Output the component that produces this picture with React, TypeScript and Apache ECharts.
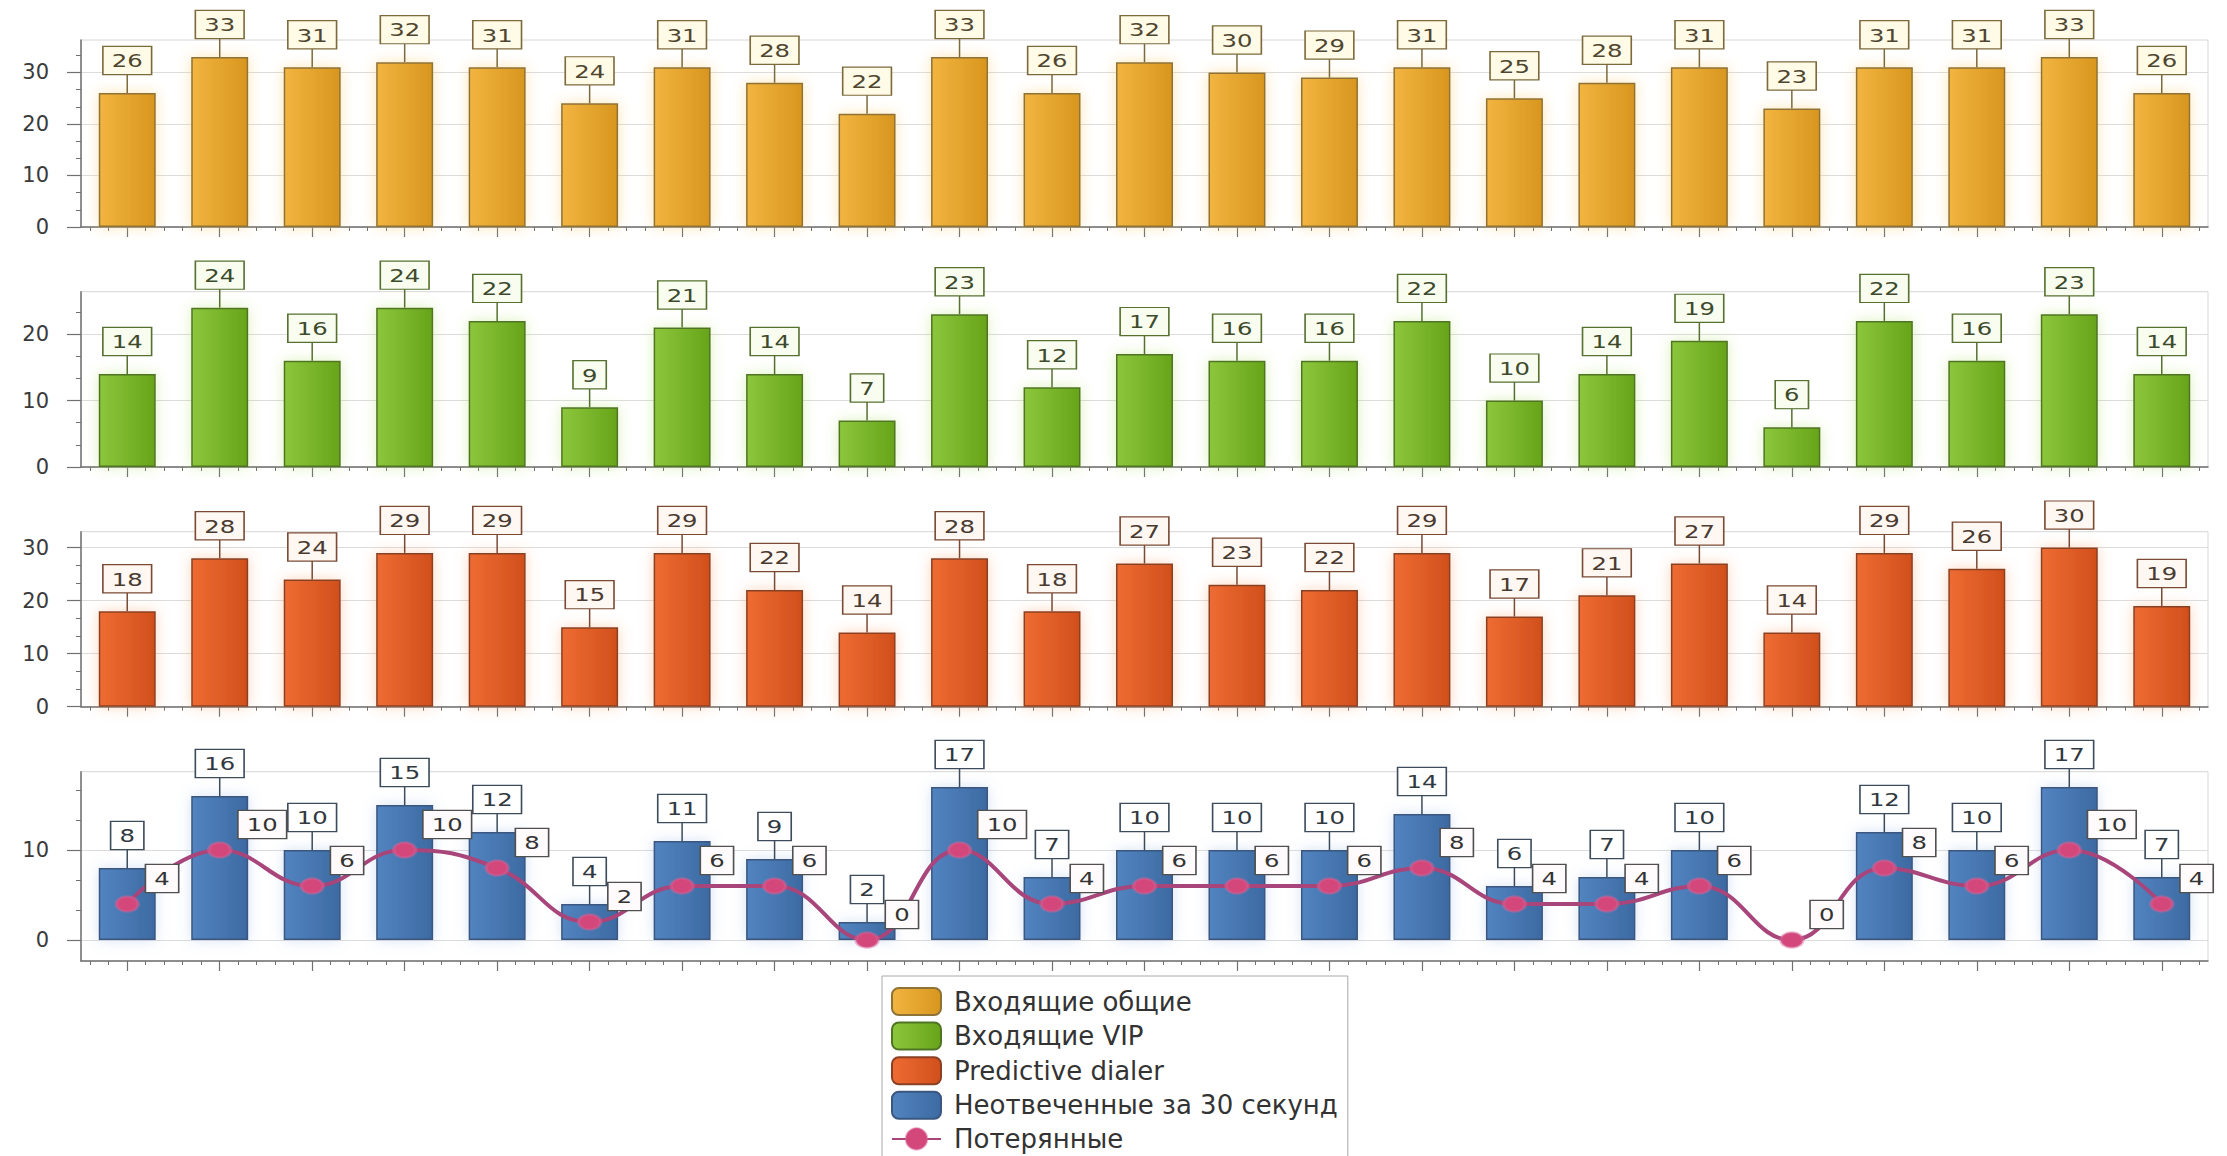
import React, { useEffect, useRef } from 'react';
import * as echarts from 'echarts';

const categories = ['1', '2', '3', '4', '5', '6', '7', '8', '9', '10', '11', '12', '13', '14', '15', '16', '17', '18', '19', '20', '21', '22', '23'];
const incomingGeneral = [26, 33, 31, 32, 31, 24, 31, 28, 22, 33, 26, 32, 30, 29, 31, 25, 28, 31, 23, 31, 31, 33, 26];
const incomingVip = [14, 24, 16, 24, 22, 9, 21, 14, 7, 23, 12, 17, 16, 16, 22, 10, 14, 19, 6, 22, 16, 23, 14];
const predictiveDialer = [18, 28, 24, 29, 29, 15, 29, 22, 14, 28, 18, 27, 23, 22, 29, 17, 21, 27, 14, 29, 26, 30, 19];
const unanswered30s = [8, 16, 10, 15, 12, 4, 11, 9, 2, 17, 7, 10, 10, 10, 14, 6, 7, 10, 0, 12, 10, 17, 7];
const lost = [4, 10, 6, 10, 8, 2, 6, 6, 0, 10, 4, 6, 6, 6, 8, 4, 4, 6, 0, 8, 6, 10, 4];

const yTicksGeneral = [0, 10, 20, 30];
const yTicksVip = [0, 10, 20];
const yTicksDialer = [0, 10, 20, 30];
const yTicksUnanswered = [0, 10];

const seriesNames = ['Входящие общие', 'Входящие VIP', 'Predictive dialer', 'Неотвеченные за 30 секунд', 'Потерянные'];

const minorSlots = categories.flatMap(() => ['', '', '', '', '']);

const SX = 1.35;
const FONT = '"DejaVu Sans", Verdana, sans-serif';
const AXIS_COLOR = '#707070';

const panels = [
  { top: 40, height: 187, min: 0, max: 36.3, ticks: yTicksGeneral },
  { top: 291.7, height: 175.3, min: 0, max: 26.4, ticks: yTicksVip },
  { top: 531.7, height: 175, min: 0, max: 33, ticks: yTicksDialer },
  { top: 771.7, height: 189.3, min: -2.33, max: 18.7, ticks: yTicksUnanswered },
];

const barStyles = [
  { c1: '#f2b540', c2: '#d8961e', border: '#8f7236', glow: 'rgba(250,200,90,0.45)', lblBg: '#fffbe6', lblBorder: '#7d6a3c', lblText: '#4f4630' },
  { c1: '#8cc63c', c2: '#67a41a', border: '#4f7424', glow: 'rgba(170,220,90,0.4)', lblBg: '#f9fdef', lblBorder: '#56702f', lblText: '#3d4a2c' },
  { c1: '#ee6c32', c2: '#d14f1c', border: '#8a4024', glow: 'rgba(250,150,90,0.4)', lblBg: '#fff8f2', lblBorder: '#7a4a35', lblText: '#4a3a30' },
  { c1: '#5284c0', c2: '#3d6aa2', border: '#3a5780', glow: 'rgba(120,160,220,0.3)', lblBg: '#ffffff', lblBorder: '#3c4c5c', lblText: '#303840' },
];

function labelRenderer(o: { bg: string; border: string; text: string; leader: number; dx: number; dy: number; align: string; skipZero: boolean }) {
  return (params: any, api: any) => {
    const v = api.value(1);
    if (o.skipZero && v === 0) return null;
    const p = api.coord([api.value(0), v]);
    const children: any[] = [];
    if (o.leader > 0) {
      children.push({
        type: 'line',
        shape: { x1: p[0], y1: p[1], x2: p[0], y2: p[1] - o.leader },
        style: { stroke: o.border, lineWidth: 1.5 },
      });
    }
    children.push({
      type: 'group',
      x: p[0] + o.dx,
      y: p[1] - o.dy,
      scaleX: SX,
      children: [
        {
          type: 'text',
          style: {
            text: String(v),
            x: 0,
            y: 0,
            align: o.align,
            verticalAlign: 'bottom',
            fontSize: 18,
            fontFamily: FONT,
            fill: o.text,
            backgroundColor: o.bg,
            borderColor: o.border,
            borderWidth: 1.2,
            padding: [5, 6, 4, 6],
          },
        },
      ],
    });
    return { type: 'group', children };
  };
}

export default function App() {
  const ref = useRef<HTMLDivElement>(null);

  useEffect(() => {
    if (!ref.current) return;
    const chart = echarts.init(ref.current, undefined, { renderer: 'svg' });

    const grids = panels.map((p) => ({
      left: 81,
      width: 2127,
      top: p.top,
      height: p.height,
      show: true,
      backgroundColor: '#ffffff',
      borderColor: '#d6d6d6',
      borderWidth: 1,
      containLabel: false,
    }));

    const xAxes: any[] = [];
    panels.forEach((_, i) => {
      xAxes.push({
        type: 'category',
        gridIndex: i,
        data: categories,
        position: 'bottom',
        boundaryGap: true,
        axisLine: { show: true, onZero: false, lineStyle: { color: AXIS_COLOR, width: 1.5 } },
        axisTick: { show: true, alignWithLabel: true, interval: 0, length: 10, lineStyle: { color: AXIS_COLOR, width: 1.2 } },
        axisLabel: { show: false },
        splitLine: { show: false },
      });
      xAxes.push({
        type: 'category',
        gridIndex: i,
        data: minorSlots,
        position: 'bottom',
        boundaryGap: true,
        axisLine: { show: false, onZero: false },
        axisTick: { show: true, alignWithLabel: true, interval: 0, length: 4, lineStyle: { color: AXIS_COLOR, width: 1 } },
        axisLabel: { show: false },
        splitLine: { show: false },
      });
    });

    const yAxes = panels.map((p, i) => ({
      type: 'value',
      gridIndex: i,
      min: p.min,
      max: p.max,
      minInterval: 10,
      maxInterval: 10,
      axisLine: { show: true, onZero: false, lineStyle: { color: AXIS_COLOR, width: 1.5 } },
      axisTick: { show: true, length: 14, customValues: p.ticks, lineStyle: { color: AXIS_COLOR, width: 1.2 } },
      minorTick: { show: true, splitNumber: 3, length: 5, lineStyle: { color: AXIS_COLOR, width: 1 } },
      axisLabel: {
        show: true,
        customValues: p.ticks,
        margin: 32,
        fontSize: 21,
        color: '#3a3a3a',
        fontFamily: FONT,
        formatter: (v: number) => (Math.abs(v % 10) < 1e-9 ? String(v) : ''),
      },
      splitLine: { show: true, lineStyle: { color: '#dcdcdc', width: 1.2 } },
    }));

    const barData = [incomingGeneral, incomingVip, predictiveDialer, unanswered30s];

    const barSeries = barData.map((d, i) => {
      const s = barStyles[i];
      return {
        name: seriesNames[i],
        type: 'bar',
        xAxisIndex: i * 2,
        yAxisIndex: i,
        data: d,
        barWidth: '61.6%',
        z: 2,
        itemStyle: {
          color: new echarts.graphic.LinearGradient(0, 0, 1, 0, [
            { offset: 0, color: s.c1 },
            { offset: 1, color: s.c2 },
          ]),
          borderColor: s.border,
          borderWidth: 1.5,
          shadowBlur: 14,
          shadowColor: s.glow,
        },
      };
    });

    const lineSeries = {
      name: seriesNames[4],
      type: 'line',
      xAxisIndex: 6,
      yAxisIndex: 3,
      data: lost,
      smooth: 0.45,
      symbol: 'circle',
      symbolSize: [22, 15],
      z: 4,
      lineStyle: { color: '#a8457a', width: 4 },
      itemStyle: { color: '#d3477b', borderColor: 'rgba(214,100,150,0.45)', borderWidth: 3 },
    };

    const labelSeries = barData.map((d, i) => {
      const s = barStyles[i];
      return {
        type: 'custom',
        xAxisIndex: i * 2,
        yAxisIndex: i,
        data: d.map((v, k) => [k, v]),
        clip: false,
        silent: true,
        z: 10,
        renderItem: labelRenderer({
          bg: s.lblBg,
          border: s.lblBorder,
          text: s.lblText,
          leader: 19,
          dx: 0,
          dy: 19,
          align: 'center',
          skipZero: i === 3,
        }),
      };
    });

    const lineLabelSeries = {
      type: 'custom',
      xAxisIndex: 6,
      yAxisIndex: 3,
      data: lost.map((v, k) => [k, v]),
      clip: false,
      silent: true,
      z: 11,
      renderItem: labelRenderer({
        bg: '#fffbfd',
        border: '#505050',
        text: '#333333',
        leader: 0,
        dx: 19,
        dy: 12,
        align: 'left',
        skipZero: false,
      }),
    };

    chart.setOption({
      animation: false,
      backgroundColor: '#ffffff',
      textStyle: { fontFamily: FONT },
      grid: grids,
      xAxis: xAxes,
      yAxis: yAxes,
      legend: {
        show: true,
        orient: 'vertical',
        left: 882,
        top: 976,
        data: seriesNames,
        itemWidth: 49,
        itemHeight: 27,
        itemGap: 5.6,
        padding: [11, 10, 10, 9],
        borderColor: '#a8a8a8',
        borderWidth: 1,
        backgroundColor: '#ffffff',
        selectedMode: false,
        textStyle: { fontSize: 26, lineHeight: 27, color: '#333333', fontFamily: FONT, padding: [0, 0, 0, 8] },
      },
      series: [...barSeries, lineSeries, ...labelSeries, lineLabelSeries],
    });

    return () => chart.dispose();
  }, []);

  return <div ref={ref} style={{ position: 'fixed', left: 0, top: 0, width: 2227, height: 1240 }} />;
}
